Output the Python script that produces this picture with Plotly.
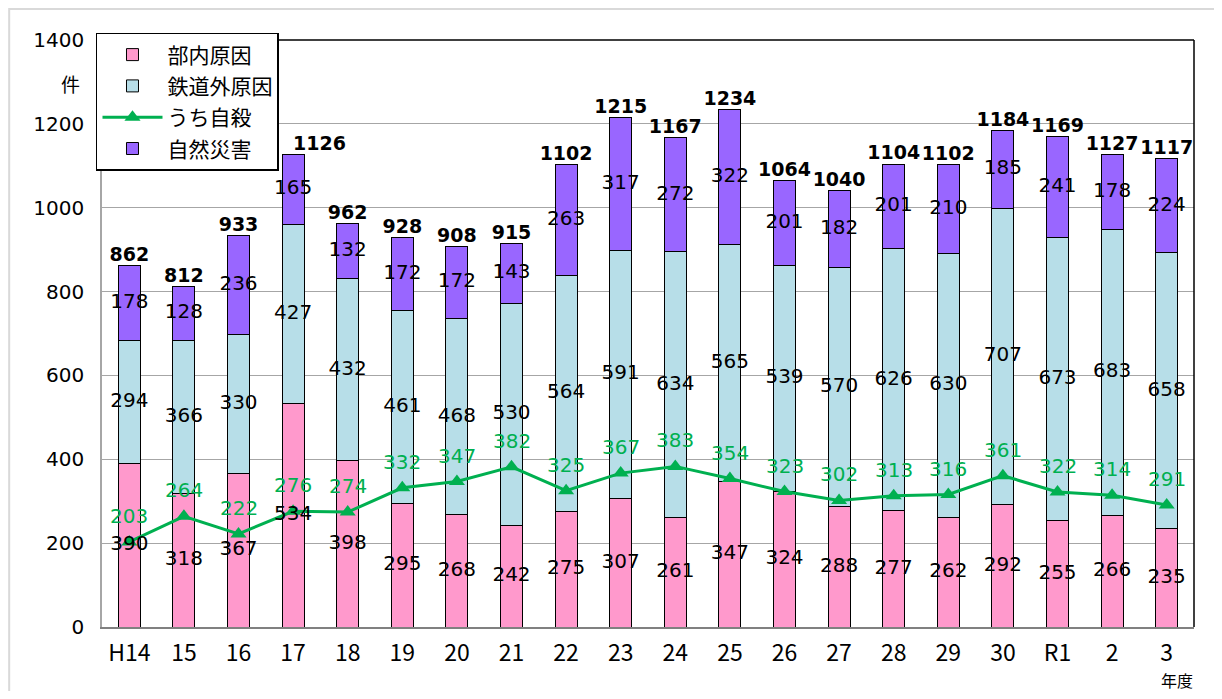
import plotly.graph_objects as go

years = ["H14", "15", "16", "17", "18", "19", "20", "21", "22", "23",
         "24", "25", "26", "27", "28", "29", "30", "R1", "2", "3"]
internal = [390, 318, 367, 534, 398, 295, 268, 242, 275, 307,
            261, 347, 324, 288, 277, 262, 292, 255, 266, 235]
external = [294, 366, 330, 427, 432, 461, 468, 530, 564, 591,
            634, 565, 539, 570, 626, 630, 707, 673, 683, 658]
disaster = [178, 128, 236, 165, 132, 172, 172, 143, 263, 317,
            272, 322, 201, 182, 201, 210, 185, 241, 178, 224]
suicide = [203, 264, 222, 276, 274, 332, 347, 382, 325, 367,
           383, 354, 323, 302, 313, 316, 361, 322, 314, 291]

totals = [a + b + c for a, b, c in zip(internal, external, disaster)]

jp = "Noto Sans CJK JP"
num = "DejaVu Sans, Noto Sans CJK JP"
pink = "#FF99CC"
blue = "#B7DEE8"
purple = "#9966FF"
green = "#00B050"

fig = go.Figure()

fig.add_trace(go.Bar(x=years, y=internal, name="部内原因", marker_color=pink,
                     marker_line=dict(color="black", width=1), legendgroup="a"))
fig.add_trace(go.Bar(x=years, y=external, name="鉄道外原因", marker_color=blue,
                     marker_line=dict(color="black", width=1), legendgroup="b"))
fig.add_trace(go.Scatter(x=years, y=suicide, name="うち自殺", mode="lines+markers",
                         line=dict(color=green, width=3),
                         marker=dict(symbol="triangle-up", size=14, color=green),
                         legendgroup="c"))
fig.add_trace(go.Bar(x=years, y=disaster, name="自然災害", marker_color=purple,
                     marker_line=dict(color="black", width=1), legendgroup="d"))

# segment labels in the middle of each stacked piece
mid_int = [a / 2 for a in internal]
mid_ext = [a + b / 2 for a, b in zip(internal, external)]
mid_dis = [a + b + c / 2 for a, b, c in zip(internal, external, disaster)]
for ys, vals in [(mid_int, internal), (mid_ext, external), (mid_dis, disaster)]:
    fig.add_trace(go.Scatter(x=years, y=ys, mode="text", text=[str(v) for v in vals],
                             textfont=dict(family=num, size=20, color="black"),
                             showlegend=False, hoverinfo="skip"))

# total of H17 sits right of its bar, clear of the legend
total_pos = ["top center"] * len(years)
total_pos[3] = "top right"
fig.add_trace(go.Scatter(x=years, y=totals, mode="text",
                         text=["<b>%d</b>" % v for v in totals], textposition=total_pos,
                         textfont=dict(family=num, size=19, color="black"),
                         showlegend=False, hoverinfo="skip"))

annots = []
for i, v in enumerate(suicide):
    annots.append(dict(x=i, y=v, text=str(v), showarrow=False, yshift=26,
                       font=dict(family=num, size=20, color=green)))

annots.append(dict(text="件", xref="paper", yref="paper", x=-0.029, y=0.952,
                   showarrow=False, font=dict(family=jp, size=19), xanchor="center"))
annots.append(dict(text="年度", xref="paper", yref="paper", x=0.984, y=-0.091,
                   showarrow=False, font=dict(family=jp, size=16), xanchor="center",
                   yanchor="middle"))

# page body has an 8px margin, so the figure is a bit smaller than the window
fig.update_layout(
    barmode="stack",
    bargap=0.6,
    width=1206, height=683,
    margin=dict(l=94, r=20, t=32, b=64, autoexpand=False),
    plot_bgcolor="white",
    paper_bgcolor="white",
    font=dict(family=jp, size=20, color="black"),
    legend=dict(x=-0.0055, y=1.012, xanchor="left", yanchor="top", traceorder="grouped",
                bgcolor="white", bordercolor="black", borderwidth=1.5,
                font=dict(family=jp, size=21), tracegroupgap=1, itemwidth=60),
    xaxis=dict(type="category", range=[-0.5, 19.5], showline=True, linecolor="#808080",
               linewidth=1.5, tickfont=dict(family=jp, size=23), ticks="",
               ticklabelstandoff=5),
    yaxis=dict(range=[0, 1400], dtick=200, showgrid=True, gridcolor="#A6A6A6",
               gridwidth=1.2, showline=True, linecolor="#A6A6A6", linewidth=1.5,
               tickfont=dict(family=num, size=20), ticks="", zeroline=False,
               ticklabelstandoff=12),
    shapes=[
        dict(type="line", xref="paper", yref="paper", x0=0, x1=1, y0=1, y1=1,
             line=dict(color="black", width=1.5)),
        dict(type="line", xref="paper", yref="paper", x0=1, x1=1, y0=0, y1=1,
             line=dict(color="black", width=1.5)),
        dict(type="rect", xref="paper", yref="paper", x0=-0.085, x1=1.1,
             y0=-0.3, y1=1.053, line=dict(color="#D9D9D9", width=2), layer="below"),
    ],
    annotations=annots,
)

fig.write_html("out.html")
